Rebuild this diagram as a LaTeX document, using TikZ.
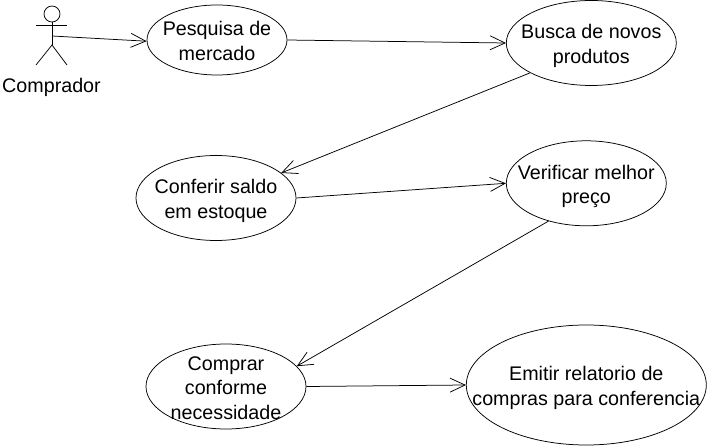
\documentclass[tikz,border=0pt]{standalone}
\usepackage{fontspec}
\setmainfont{Liberation Sans}
\usetikzlibrary{shapes.geometric,arrows.meta}
\newcommand{\casetext}[1]{\smash{\makebox[0pt]{\raisebox{-8.5pt}{\begin{tabular}{@{}c@{}}#1\end{tabular}}}}}
\tikzset{
  usecase/.style={draw=black,ellipse,line width=0.75pt,fill=white,inner sep=0pt,font=\fontsize{19.7pt}{24.4pt}\selectfont},
  conn/.style={draw=black,line width=0.75pt,-{Straight Barb[length=15pt,width=14pt,line width=0.75pt]}},
  actorline/.style={draw=black,line width=0.75pt}
}
\begin{document}
\begin{tikzpicture}[x=1pt,y=-1pt]
\useasboundingbox (0,0) rectangle (707,446);
\node[usecase,minimum width=140pt,minimum height=70pt] (a) at (217,40) {\casetext{Pesquisa de\\mercado}};
\node[usecase,minimum width=170pt,minimum height=85pt] (b) at (591.3,43) {\casetext{Busca de novos\\produtos}};
\node[usecase,minimum width=160pt,minimum height=85pt] (c) at (216,198) {\casetext{Conferir saldo\\em estoque}};
\node[usecase,minimum width=160pt,minimum height=85pt] (d) at (586.3,183.3) {\casetext{Verificar melhor\\preço}};
\node[usecase,minimum width=160pt,minimum height=85pt] (e) at (226,386.5) {\casetext{Comprar\\conforme\\necessidade}};
\node[usecase,minimum width=240pt,minimum height=120pt] (f) at (586.3,385) {\casetext{Emitir relatorio de\\compras para conferencia}};
\coordinate (hip) at (52,45);
\coordinate (hl) at (36,25);
\coordinate (hr) at (67,25);
\coordinate (fl) at (36,65);
\coordinate (fr) at (67,65);
\coordinate (start) at (52,36);
\node[draw=black,circle,minimum size=16pt,inner sep=0pt,line width=0.75pt] (hd) at (52,14) {};
\draw[actorline] (hd.south) -- (hip);
\draw[actorline] (hl) -- (hr);
\draw[actorline] (fl) -- (hip) -- (fr);
\node[font=\fontsize{19.7pt}{24pt}\selectfont] (lab) at (51.5,87) {Comprador};
\draw[conn] (start) -- (a.181.6);
\draw[conn] (a.0) -- (b.180);
\draw[conn] (b.206) -- (c.21.4);
\draw[conn] (c.0) -- (d.180);
\draw[conn] (d.225.3) -- (e.16.2);
\draw[conn] (e.0) -- (f.180);
\end{tikzpicture}
\end{document}
